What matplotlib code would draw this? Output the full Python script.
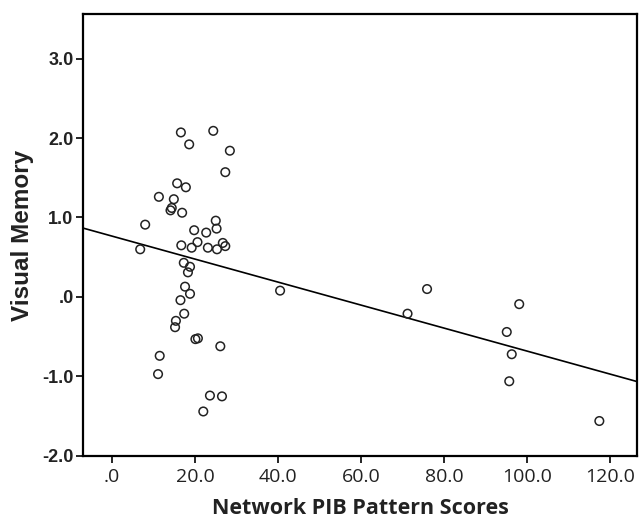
import numpy as np
import matplotlib
matplotlib.use('Agg')
import matplotlib.pyplot as plt

# values
pib_scores = [16.6, 24.4, 18.6, 28.4, 27.3, 15.7, 17.8, 11.3, 14.9, 14.4,
              14.1, 16.9, 8.0, 25.0, 25.2, 19.8, 22.7, 20.6, 16.7, 19.2,
              23.1, 25.3, 26.7, 27.3, 6.8, 17.3, 18.8, 18.3, 40.5, 17.6,
              18.8, 16.5, 17.4, 15.4, 15.2, 20.1, 20.7, 26.1, 11.5, 11.1,
              23.6, 26.5, 22.0, 75.9, 71.2, 98.1, 95.1, 96.3, 95.7, 117.4]
visual_memory = [2.07, 2.09, 1.92, 1.84, 1.57, 1.43, 1.38, 1.26, 1.23, 1.12,
                 1.09, 1.06, 0.91, 0.96, 0.86, 0.84, 0.81, 0.69, 0.65, 0.62,
                 0.62, 0.60, 0.68, 0.64, 0.60, 0.43, 0.38, 0.31, 0.08, 0.13,
                 0.04, -0.04, -0.21, -0.30, -0.38, -0.53, -0.52, -0.62, -0.74, -0.97,
                 -1.24, -1.25, -1.44, 0.10, -0.21, -0.09, -0.44, -0.72, -1.06, -1.56]
x_ticks = [0, 20, 40, 60, 80, 100, 120]
y_ticks = [-2, -1, 0, 1, 2, 3]

x = np.array(pib_scores)
y = np.array(visual_memory)
# linear fit line, as in the original
slope, intercept = np.polyfit(x, y, 1)

fig = plt.figure(figsize=(6.39, 5.20), dpi=100)
ax = fig.add_axes([0.1304, 0.1231, 0.866, 0.85])

ax.scatter(x, y, s=38, facecolors='none', edgecolors='#222222', linewidths=1.1, zorder=3)

xlim = (-6.9, 126.4)
line_x = np.array(xlim)
ax.plot(line_x, intercept + slope * line_x, color='black', lw=1.2, zorder=2)

ax.set_xlim(*xlim)
ax.set_ylim(-2.0, 3.56)

def fmt(v):
    s = f'{v:.1f}'
    return s.replace('0.0', '.0') if abs(v) < 1e-9 else s

ax.set_xticks(x_ticks)
ax.set_xticklabels([fmt(v) for v in x_ticks], family='Open Sans', fontsize=14, color='#222222')
ax.set_yticks(y_ticks)
ax.set_yticklabels([fmt(v) for v in y_ticks], family='Liberation Sans', fontweight='bold',
                   fontsize=13, color='#222222')

ax.tick_params(direction='out', length=5, width=1.2, pad=2)
ax.tick_params(axis='x', pad=4)
for sp in ax.spines.values():
    sp.set_linewidth(1.6)

ax.set_xlabel('Network PIB Pattern Scores', family='Open Sans', fontweight='bold',
              fontsize=15.5, color='#222222', labelpad=8)
ax.set_ylabel('Visual Memory', family='Liberation Sans', fontweight='bold',
              fontsize=17.5, color='#222222', labelpad=6)

fig.savefig('out.png', dpi=100)
